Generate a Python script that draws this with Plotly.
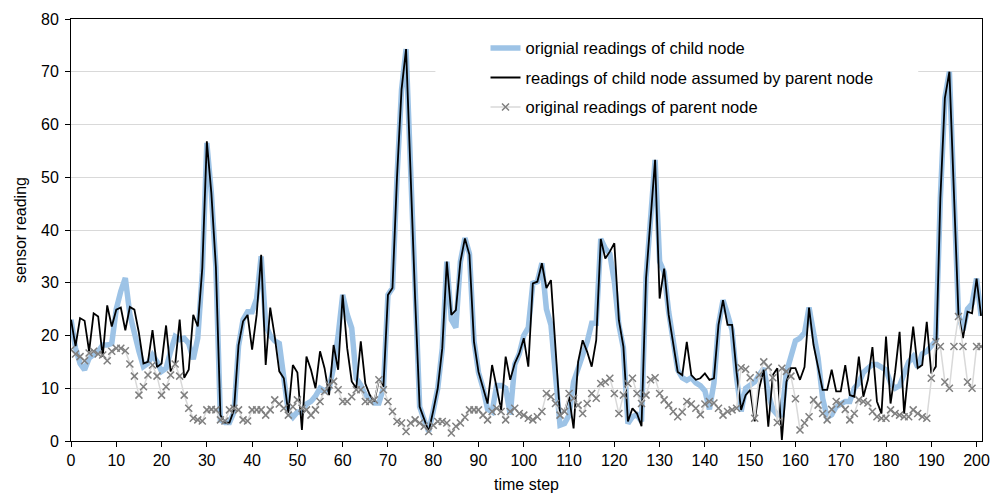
import plotly.graph_objects as go

time_steps = list(range(202))

child_original = [
    23, 17.6, 14.7, 13.5, 15.7, 16.3, 17, 18.2, 18.2, 18.5,
    25, 28.4, 30.9, 24, 20, 17, 14.1, 14.7, 16.3, 15,
    13.2, 13.8, 17, 19.8, 19.2, 19.5, 18.5, 15.5, 19.5, 32,
    56.5, 47, 33, 4, 3.5, 3.5, 5.5, 18, 23, 24.5,
    24.5, 27, 35, 22, 20, 19, 18.5, 11, 5.5, 4.5,
    5.5, 5.5, 7, 7.5, 8.5, 10, 9.5, 10, 14, 20,
    27.7, 24, 21.4, 11.9, 10.6, 8.7, 7.8, 7.2, 7.2, 10,
    27.7, 29, 50, 66.6, 74.3, 50, 27, 6.5, 4, 1.8,
    5.7, 10, 17.6, 34, 23, 21.5, 34, 38.5, 35.5, 19,
    13, 10, 6, 5.5, 10.5, 10.5, 10, 5, 14.5, 16.5,
    20, 21.5, 29.9, 30.2, 33.7, 25, 22, 12, 3, 3.3,
    4.9, 11.2, 13.8, 15.7, 18.8, 22.3, 22.3, 38.3, 36.5, 35.5,
    30.2, 22, 17.6, 3.3, 4.6, 5, 3.7, 31, 41.6, 53.3,
    34, 32, 24.5, 18.5, 13.5, 12, 11.5, 12, 11, 10.5,
    9.5, 6, 11, 22, 26.7, 24, 21, 12, 5.6, 10,
    10.6, 11.2, 12.5, 13.8, 9, 6, 5, 5, 13, 16.5,
    19, 19.5, 20.5, 25.3, 20.7, 15.7, 8.1, 4.5, 5, 6.5,
    7, 7.5, 7.5, 10, 11, 13, 13.8, 14.5, 14.5, 14,
    13.5, 11, 10, 10.5, 13, 15, 16, 14, 16.5, 17,
    18, 19, 46, 65, 70, 47, 24, 21, 25, 26,
    30.8, 23.7,
]

child_assumed = [
    23, 18, 23.3, 22.8, 17, 24.2, 23.6, 16, 25.7, 21.7,
    24.9, 25.3, 21, 25.4, 24.9, 20.5, 14.7, 15, 21, 14,
    14.7, 21.9, 13.2, 14.4, 23, 12, 13.5, 23.9, 21.7, 32.8,
    56.8, 47, 33, 4.9, 3.5, 3.5, 5.9, 18.2, 22.7, 23.9,
    17.3, 23.9, 35.3, 14.4, 25.3, 19.8, 13.2, 11.9, 5.3, 14.4,
    13, 2.1, 16, 13.5, 10, 17, 13.8, 8.7, 18.2, 13.5,
    27.7, 17.6, 11.3, 10, 18.9, 10.9, 8.7, 7.5, 11.6, 10.3,
    27.7, 29, 50, 66.6, 74.3, 50, 27, 6.5, 4, 1.8,
    5.7, 10, 17.6, 34, 23.9, 24.8, 34, 38.4, 35.3, 18.8,
    13.1, 10, 7.1, 14.4, 10, 5.9, 16, 11.6, 14.7, 16.6,
    19.5, 14.1, 29.9, 30.2, 33.7, 29, 30.5, 17, 4.9, 5.6,
    8.4, 2.4, 15, 19.1, 16.9, 14.1, 19.1, 38.3, 34.6, 35.9,
    37.5, 22.9, 17.9, 3.7, 6.2, 5.2, 2.8, 30.8, 41.6, 53.3,
    27, 32.7, 23.9, 18.2, 13.1, 12.5, 18.8, 12.5, 11.6, 11.9,
    12.8, 11.6, 11.9, 22, 26.7, 22, 22, 13, 5.9, 8.7,
    9.7, 3.7, 10, 13.5, 2.7, 12.5, 13.8, 0.2, 11.2, 13.8,
    13.8, 11.6, 14, 25.3, 18.2, 14, 9.7, 9.7, 13.5, 9.4,
    9.4, 14.4, 8.7, 8.4, 16, 8.4, 11.6, 17.8, 7.5, 5.2,
    19.8, 7.1, 13, 20.7, 5.2, 13.8, 21.7, 13.8, 14.4, 22.6,
    12.8, 14.1, 46, 65, 70, 47, 24, 19.5, 24.5, 24.2,
    30.8, 23.7,
]

parent_original = [
    17.3, 16.5, 16, 15.2, 16.7, 17, 16.5, 16.3, 15.2, 17,
    17.6, 17.6, 17.1, 14.6, 12.3, 8.7, 10.3, 12.5, 14.4, 12.3,
    8.7, 10.3, 12.5, 14.6, 12.3, 8.7, 6.2, 4.3, 4, 3.8,
    5.9, 6, 5.9, 4, 3.8, 5.9, 6.2, 5.9, 4, 3.8,
    5.9, 5.9, 5.9, 4.9, 5.9, 7.8, 7, 6.2, 4.9, 6.5,
    7.8, 6.2, 5.9, 4.9, 5.9, 7.5, 9.4, 10.6, 11.3, 9.7,
    7.5, 7.5, 8.4, 9.7, 9.7, 7.5, 7.5, 7.8, 11.6, 9.7,
    7.5, 5.6, 3.7, 3.4, 1.8, 3.4, 4, 3.4, 2.8, 1.8,
    3, 3.7, 3.7, 3.4, 1.5, 2.8, 3.4, 4.5, 5.9, 5.9,
    5.9, 4.9, 4, 5.6, 6.2, 5.6, 4, 5.6, 6.2, 5.2,
    4.9, 4.3, 4, 4.6, 5.6, 9, 8.4, 7.1, 4.9, 5.6,
    9, 8.1, 6.8, 5.2, 7.1, 9, 8.1, 10.9, 11.2, 11.9,
    9, 5.2, 8.7, 10.9, 11.9, 9, 7.1, 8.7, 11.6, 12,
    9, 7.8, 6.8, 5.6, 4.6, 5.5, 7.5, 7, 6.2, 5,
    7, 7.5, 7.2, 6.2, 4.9, 5.6, 5.9, 6.2, 13.9, 13.6,
    12, 4.3, 12.5, 15, 14, 12, 3.5, 13.8, 13.2, 12.3,
    8, 2.1, 3.4, 4.6, 7.8, 6.8, 5.2, 4, 6, 7.5,
    7, 6, 4, 5.2, 7.8, 7.5, 7.2, 5.6, 4.6, 4.3,
    4.3, 5.9, 5.2, 4.9, 4.6, 4.6, 5.9, 5.2, 4.6, 4.3,
    11.9, 18.8, 17.9, 11.2, 10, 17.9, 23.6, 17.9, 11.2, 10,
    17.9, 17.9,
]

series_names = [
    "orignial readings of child node",
    "readings of child node assumed by parent node",
    "original readings of parent node",
]

x_tick_values = list(range(0, 201, 10))
y_tick_values = list(range(0, 81, 10))

FONT = "Liberation Sans, Arial, sans-serif"

fig = go.Figure()
fig.add_trace(go.Scatter(
    x=time_steps, y=child_original, name=series_names[0], mode="lines",
    line=dict(color="#9DC3E6", width=5.5), legendgroup="a",
))
fig.add_trace(go.Scatter(
    x=time_steps, y=child_assumed, name=series_names[1], mode="lines",
    line=dict(color="#000000", width=1.8), legendgroup="b",
))
fig.add_trace(go.Scatter(
    x=time_steps, y=parent_original, name=series_names[2], mode="lines+markers",
    line=dict(color="#D9D9D9", width=1.5),
    marker=dict(symbol="x-thin", size=7, color="#7F7F7F",
                line=dict(width=1.5, color="#7F7F7F")),
    legendgroup="c",
))

# white legend background box hiding the gridline behind the legend
fig.add_shape(type="rect", xref="paper", yref="paper",
              x0=0.40, x1=0.93, y0=0.765, y1=0.975,
              fillcolor="white", line=dict(width=0), layer="above")

# the page adds an 8px body margin, so the figure is sized 992x489
fig.update_layout(
    width=992, height=489,
    margin=dict(l=63, r=18, t=11, b=56, autoexpand=False),
    paper_bgcolor="white", plot_bgcolor="white",
    font=dict(family=FONT, size=16, color="#000000"),
    showlegend=True,
    legend=dict(
        x=0.455, y=0.972, xanchor="left", yanchor="top",
        bgcolor="rgba(0,0,0,0)", font=dict(size=16.5, family=FONT),
        tracegroupgap=5, traceorder="grouped",
    ),
    xaxis=dict(
        range=[0, 201.2], tickmode="array", tickvals=x_tick_values,
        ticks="outside", ticklen=5, tickcolor="#000000",
        showline=True, linecolor="#000000", linewidth=1, mirror=True,
        showgrid=False, zeroline=False, automargin=False,
        title=dict(text="time step", font=dict(size=16), standoff=10),
        tickfont=dict(size=16),
    ),
    yaxis=dict(
        range=[0, 80], tickmode="array", tickvals=y_tick_values,
        ticks="outside", ticklen=5, tickcolor="#000000",
        showline=True, linecolor="#000000", linewidth=1, mirror=True,
        showgrid=True, gridcolor="#D9D9D9", gridwidth=1, zeroline=False,
        automargin=False, ticklabelstandoff=3,
        title=dict(text="sensor reading", font=dict(size=16), standoff=10),
        tickfont=dict(size=16),
    ),
)

fig.write_html("out.html")
